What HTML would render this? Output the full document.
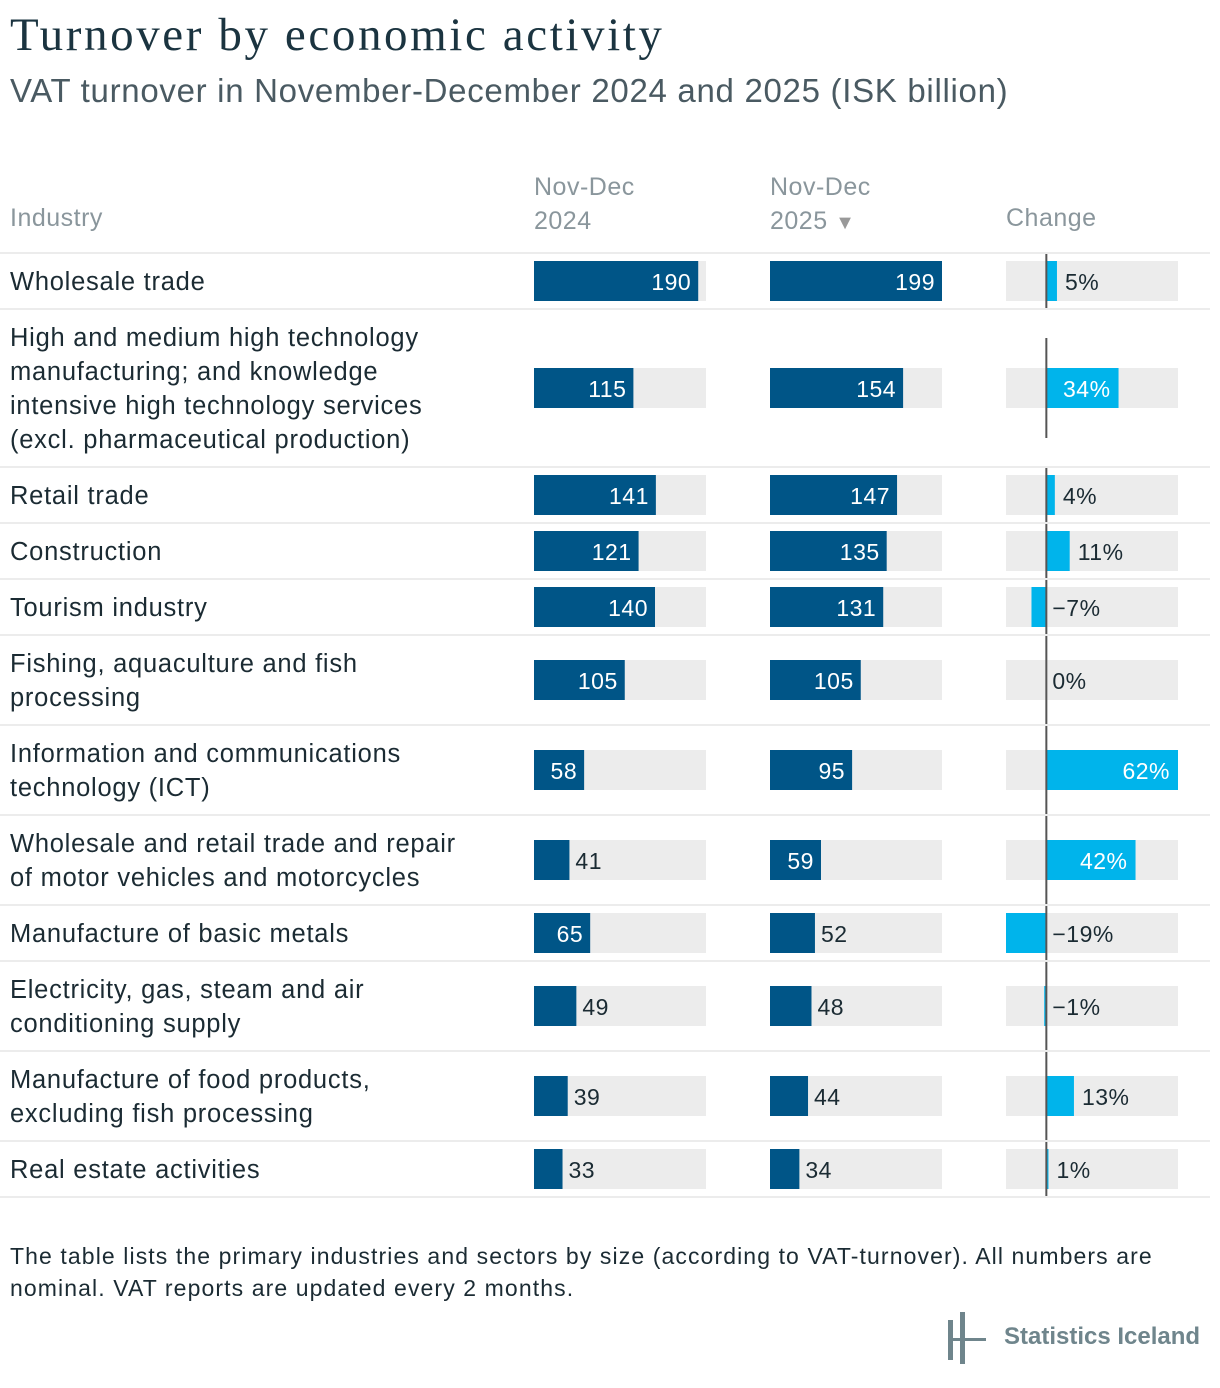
<!DOCTYPE html>
<html><head><meta charset="utf-8"><style>
body{margin:0;background:#fff;width:1220px;height:1388px;overflow:hidden;font-family:"Liberation Sans",sans-serif;color:#1b2b33;position:relative}
.t{position:absolute;white-space:nowrap}
</style></head><body>
<div class="t" style="left:10px;top:8px;font-family:'Liberation Serif',serif;font-size:47px;letter-spacing:2.6px;color:#1b3440">Turnover by economic activity</div>
<div class="t" style="left:10px;top:72px;font-size:33px;letter-spacing:0.7px;color:#4a5a62">VAT turnover in November-December 2024 and 2025 (ISK billion)</div>
<div class="t" style="left:10px;top:204px;font-size:25px;letter-spacing:0.5px;color:#8a969c">Industry</div>
<div class="t" style="left:534px;top:170px;font-size:25px;letter-spacing:0.5px;color:#8a969c;line-height:34px">Nov-Dec<br>2024</div>
<div class="t" style="left:770px;top:170px;font-size:25px;letter-spacing:0.5px;color:#8a969c;line-height:34px">Nov-Dec<br>2025 <span style="font-size:20px;color:#999">▼</span></div>
<div class="t" style="left:1006px;top:204px;font-size:25px;letter-spacing:0.5px;color:#8a969c">Change</div>
<svg id="tbl" width="1220" height="1388" style="position:absolute;left:0;top:0"></svg>
<div class="t" style="left:10px;top:1240px;font-size:23px;letter-spacing:1.1px;line-height:32px;color:#1b2b33">The table lists the primary industries and sectors by size (according to VAT-turnover). All numbers are<br>nominal. VAT reports are updated every 2 months.</div>
<svg width="50" height="56" style="position:absolute;left:944px;top:1310px"><rect x="4" y="10" width="5" height="40" fill="#6f858c"/><rect x="16" y="2" width="5" height="52" fill="#6f858c"/><rect x="4" y="28" width="38" height="3" fill="#6f858c"/></svg>
<div class="t" style="left:1004px;top:1323px;font-size:24px;font-weight:bold;color:#6f858c">Statistics Iceland</div>
<script>
const industries=["Wholesale trade","High and medium high technology|manufacturing; and knowledge|intensive high technology services|(excl. pharmaceutical production)","Retail trade","Construction","Tourism industry","Fishing, aquaculture and fish|processing","Information and communications|technology (ICT)","Wholesale and retail trade and repair|of motor vehicles and motorcycles","Manufacture of basic metals","Electricity, gas, steam and air|conditioning supply","Manufacture of food products,|excluding fish processing","Real estate activities"];
const values2024=[190,115,141,121,140,105,58,41,65,49,39,33];
const values2025=[199,154,147,135,131,105,95,59,52,48,44,34];
const changes=[5,34,4,11,-7,0,62,42,-19,-1,13,1];
const changeLabels=["5%","34%","4%","11%","−7%","0%","62%","42%","−19%","−1%","13%","1%"];
const svg=document.getElementById('tbl');const NS='http://www.w3.org/2000/svg';
function mk(t,a,txt){const e=document.createElementNS(NS,t);for(const k in a)e.setAttribute(k,a[k]);if(txt!==undefined)e.textContent=txt;svg.appendChild(e);return e;}
const W=172,valMax=199;const xv=v=>v/valMax*W;
const cMin=-19,cMax=62;const xc=v=>1006+(v-cMin)/(cMax-cMin)*W;
let y=253;
let s=mk('rect',{x:0,y:y-1,width:1210,height:2,fill:'#ececec'});
industries.forEach((ind,i)=>{
 const lines=ind.split('|');const h=Math.max(56,lines.length*34+22);const cy=y+h/2;
 lines.forEach((l,j)=>{const t=mk('text',{x:10,y:cy-(lines.length-1)*17+j*34+9,'font-size':25.5,'letter-spacing':0.75,fill:'#1b2b33'},l);});
 [[534,values2024[i]],[770,values2025[i]]].forEach(([x0,v],k)=>{
  const bg=mk('rect',{x:x0,y:cy-20,width:W,height:40,fill:'#ececec'});
  const w=xv(v);const b=mk('rect',{x:x0,y:cy-20,width:w,height:40,fill:'#005587'});
  const inside=w>45;const t=mk('text',{x:inside?x0+w-7:x0+w+6,y:cy+9,'font-size':23,'letter-spacing':0.5,fill:inside?'#fff':'#1b2b33','text-anchor':inside?'end':'start'},String(v));
 });
 const bg=mk('rect',{x:1006,y:cy-20,width:W,height:40,fill:'#ececec'});
 const c=changes[i],z=xc(0),xe=xc(c);
 const cb=mk('rect',{x:Math.min(z,xe),y:cy-20,width:Math.abs(xe-z),height:40,fill:'#00b4eb'});
 const lh=Math.min(h-2,100);const zl=mk('rect',{x:z-1,y:cy-lh/2,width:2,height:lh,fill:'#555'});
 const inside=c>25;const tx=inside?xe-8:(c>0?xe+8:z+6);
 const t=mk('text',{x:tx,y:cy+9,'font-size':23,'letter-spacing':0.5,fill:inside?'#fff':'#1b2b33','text-anchor':inside?'end':'start'},changeLabels[i]);
 y+=h;
 const sp=mk('rect',{x:0,y:y-1,width:1210,height:2,fill:'#ececec'});
});
</script>
</body></html>
